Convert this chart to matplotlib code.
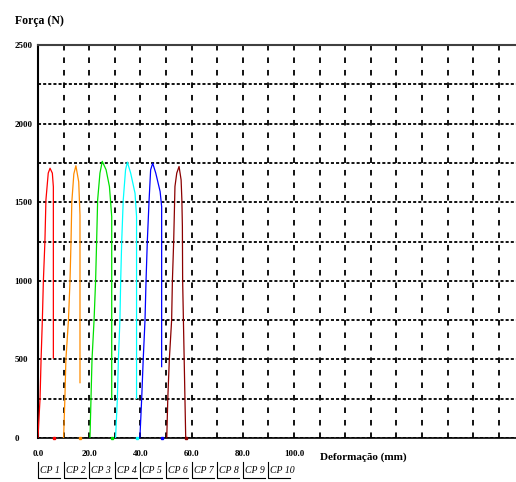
import matplotlib

matplotlib.use("Agg")
import matplotlib.pyplot as plt
import matplotlib.transforms as mtransforms
import numpy as np

plt.rcParams["lines.scale_dashes"] = False
SERIF = ["Liberation Serif", "DejaVu Serif"]

# Curvas força x deformação
cp1_x = [0.0, 0.3, 0.8, 1.2, 1.7, 2.1, 2.7, 3.1, 4.0, 4.7, 5.6, 6.0, 6.0]
cp1_y = [0, 100, 250, 500, 750, 1000, 1250, 1515, 1685, 1716, 1685, 1598, 509]
cp2_x = [10.0, 10.5, 10.9, 11.9, 12.5, 12.9, 13.2, 14.0, 14.8, 15.9, 16.4, 16.4]
cp2_y = [0, 250, 500, 750, 1000, 1250, 1500, 1680, 1732, 1630, 1418, 352]
cp3_x = [20.3, 20.7, 21.1, 21.9, 22.5, 22.9, 23.3, 24.2, 25.1, 26.6, 27.9, 28.8, 28.8]
cp3_y = [0, 250, 500, 750, 1000, 1250, 1515, 1685, 1760, 1706, 1600, 1409, 252]
cp4_x = [30.3, 31.0, 31.4, 32.0, 32.3, 32.7, 33.3, 34.2, 34.9, 36.2, 37.9, 38.5, 38.5]
cp4_y = [0, 250, 500, 750, 1000, 1250, 1515, 1706, 1755, 1685, 1557, 1409, 252]
cp5_x = [39.8, 40.5, 41.1, 41.8, 42.2, 42.7, 43.4, 44.0, 44.8, 46.0, 47.7, 48.3, 48.3]
cp5_y = [0, 250, 500, 750, 1000, 1250, 1515, 1706, 1748, 1685, 1568, 1472, 454]
cp6_x = [50.3, 50.7, 51.3, 52.2, 52.5, 53.0, 53.5, 54.2, 55.1, 55.9, 56.2, 56.4,
         56.5, 57.1, 57.4, 57.7]
cp6_y = [0, 250, 500, 750, 1000, 1250, 1600, 1685, 1727, 1642, 1515, 1345,
         1000, 500, 250, 0]
# ponto de ruptura marcado na linha de base
break_x = [6.2, 16.4, 28.8, 38.5, 48.3, 57.7]

curves = [(cp1_x, cp1_y), (cp2_x, cp2_y), (cp3_x, cp3_y),
          (cp4_x, cp4_y), (cp5_x, cp5_y), (cp6_x, cp6_y)]
colors = ["#ff0000", "#ff8c00", "#00e000", "#00ffff", "#0000ff", "#8b0000"]
legend_labels = ["CP 1", "CP 2", "CP 3", "CP 4", "CP 5",
                 "CP 6", "CP 7", "CP 8", "CP 9", "CP 10"]

x_ticks = np.arange(0, 190, 10)
x_ticklabels = ["0.0", "", "20.0", "", "40.0", "", "60.0", "", "80.0", "", "100.0"]
y_ticks = np.arange(0, 2750, 250)
y_ticklabels = ["0", "", "500", "", "1000", "", "1500", "", "2000", "", "2500"]

fig = plt.figure(figsize=(5.16, 4.82), dpi=100)
ax = fig.add_axes([38 / 516, 44 / 482, 478 / 516, 393 / 482])

for (xs, ys), c, bx in zip(curves, colors, break_x):
    ax.plot(xs, ys, color=c, lw=0.9, zorder=3)
    ax.plot(bx, 0, "s", color=c, ms=2, zorder=3, clip_on=False)

ax.set_xlim(0, 478 / 2.56)
ax.set_ylim(0, 2500)

ax.set_xticks(x_ticks)
ax.set_xticklabels(x_ticklabels + [""] * (len(x_ticks) - len(x_ticklabels)))
ax.set_yticks(y_ticks)
ax.set_yticklabels(y_ticklabels)
for lbl in ax.get_xticklabels() + ax.get_yticklabels():
    lbl.set_family(SERIF)
    lbl.set_fontweight("bold")
    lbl.set_fontsize(6.5)
ax.tick_params(axis="x", length=0, pad=9)
ax.tick_params(axis="y", length=0, pad=17)
for lbl in ax.get_yticklabels():
    lbl.set_horizontalalignment("left")

ax.grid(axis="x", color="black", lw=1.3, linestyle=(0, (4, 5)))
ax.grid(axis="y", color="black", lw=1.3, linestyle=(0, (2.2, 1.5)))
ax.set_axisbelow(True)

ax.spines["right"].set_visible(False)
ax.spines["left"].set_linewidth(1.5)
ax.spines["bottom"].set_linewidth(1.2)
ax.spines["top"].set_linewidth(1.5)
ax.spines["top"].set_color("#404040")

# legenda "CP n" abaixo do eixo x
trans = mtransforms.blended_transform_factory(ax.transData, ax.transAxes)
for i, name in enumerate(legend_labels):
    x0 = i * 10
    ax.plot([x0, x0, x0 + 8.6], [-0.062, -0.103, -0.103], color="black",
            lw=0.8, transform=trans, clip_on=False)
    ax.text(x0 + 0.8, -0.083, name, transform=trans, family=SERIF,
            style="italic", fontsize=7, va="center", ha="left")

fig.text(15 / 516, 1 - 21 / 482, "Força (N)", family=SERIF, fontweight="bold",
         fontsize=8.5, va="center", ha="left")
fig.text(320 / 516, 1 - 457 / 482, "Deformação (mm)", family=SERIF,
         fontweight="bold", fontsize=8, va="center", ha="left")

fig.savefig("out.png", dpi=100, facecolor="white")
